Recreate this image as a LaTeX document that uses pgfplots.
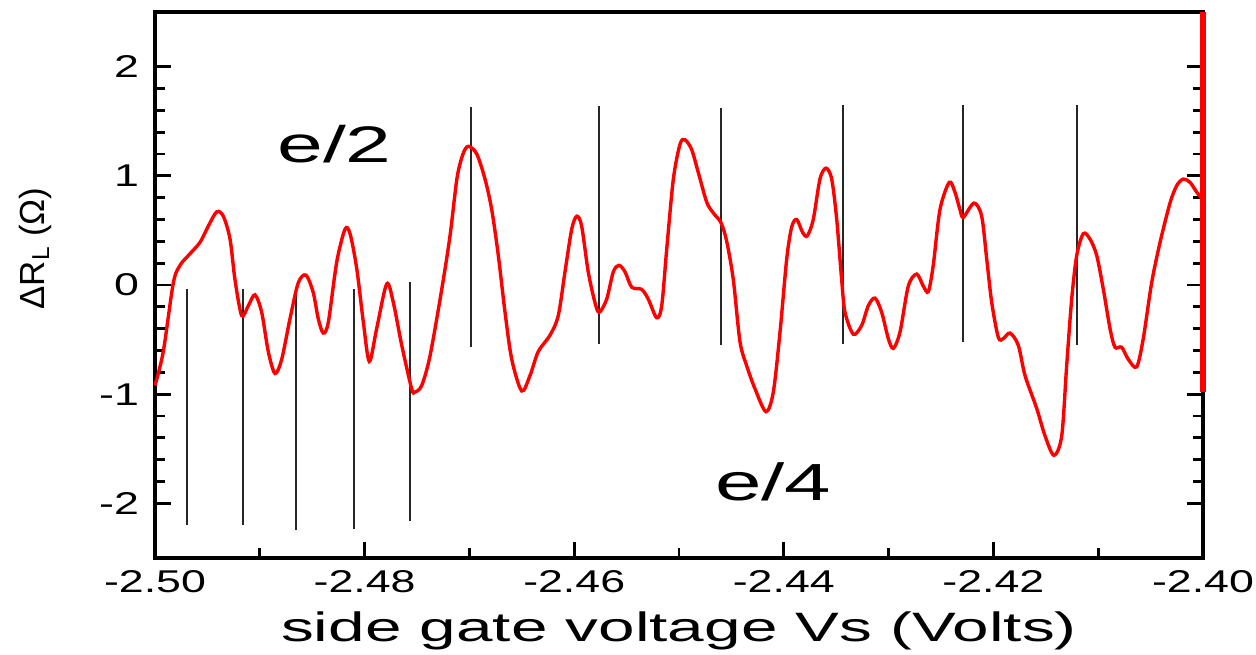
\documentclass[border=0pt]{standalone}
\usepackage{pgfplots}
\pgfplotsset{compat=1.18}
\usepackage{fontspec}
\setmainfont{Liberation Sans}[FakeStretch=1.6]
\newfontfamily\tickfont{Liberation Sans}[FakeStretch=1.42]
\newfontfamily\ylabfont{Liberation Sans}

\begin{document}
\begin{tikzpicture}
\begin{axis}[
  name=ax, at={(0,0)}, anchor=south west, scale only axis,
  width=524bp, height=273bp,
  xmin=-2.50, xmax=-2.40, ymin=-2.5, ymax=2.5,
  xtick={-2.50,-2.48,-2.46,-2.44,-2.42,-2.40},
  ytick={-2,-1,0,1,2},
  minor x tick num=1, minor y tick num=4,
  tick align=inside, xtick pos=lower, ytick pos=both, yticklabel pos=lower,
  major tick length=8bp, minor tick length=5bp,
  every tick/.style={black, line width=1.4bp},
  axis line style={line width=2.4bp},
  /pgf/number format/assume math mode=true,
  ticklabel style={font=\tickfont\fontsize{15.8}{18}\selectfont},
  xticklabel style={/pgf/number format/fixed, /pgf/number format/fixed zerofill, /pgf/number format/precision=2, yshift=-2.5bp},
  yticklabel style={xshift=-4.5bp},
  xlabel={side gate voltage Vs (Volts)},
  xlabel style={font=\fontsize{20.6}{24}\selectfont, at={(axis description cs:0.5,0)}, anchor=base, yshift=-41.5bp},
  ylabel={ΔR\textsubscript{L} (Ω)},
  ylabel style={font=\ylabfont\fontsize{17.5}{20}\selectfont, at={(axis description cs:-0.1145,0.567)}, anchor=center},
  clip=false,
]
% vertical marker lines (lower group)
\addplot[black!85, line width=1.1bp] coordinates {(-2.49695,-0.04) (-2.49695,-2.20)};
\addplot[black!85, line width=1.1bp] coordinates {(-2.49157,-0.04) (-2.49157,-2.20)};
\addplot[black!85, line width=1.1bp] coordinates {(-2.48655,-0.05) (-2.48655,-2.24)};
\addplot[black!85, line width=1.1bp] coordinates {(-2.48098,-0.04) (-2.48098,-2.23)};
\addplot[black!85, line width=1.1bp] coordinates {(-2.47567,0.03) (-2.47567,-2.16)};
% vertical marker lines (upper group)
\addplot[black!85, line width=1.1bp] coordinates {(-2.46985,1.63) (-2.46985,-0.57)};
\addplot[black!85, line width=1.1bp] coordinates {(-2.45760,1.64) (-2.45760,-0.54)};
\addplot[black!85, line width=1.1bp] coordinates {(-2.44602,1.62) (-2.44602,-0.55)};
\addplot[black!85, line width=1.1bp] coordinates {(-2.43438,1.65) (-2.43438,-0.54)};
\addplot[black!85, line width=1.1bp] coordinates {(-2.42287,1.65) (-2.42287,-0.52)};
\addplot[black!85, line width=1.1bp] coordinates {(-2.41199,1.65) (-2.41199,-0.55)};
% data curve
\addplot[red, line width=1.7bp, smooth, tension=0.5] coordinates {
(-2.50000,-0.92) (-2.49921,-0.61) (-2.49825,0.02) (-2.49761,0.18) (-2.49682,0.27)
(-2.49571,0.39) (-2.49491,0.54) (-2.49411,0.67) (-2.49348,0.63) (-2.49284,0.42)
(-2.49237,0.05) (-2.49173,-0.28) (-2.49110,-0.19) (-2.49046,-0.09) (-2.48982,-0.25)
(-2.48919,-0.61) (-2.48855,-0.81) (-2.48791,-0.68) (-2.48712,-0.31) (-2.48633,0.02)
(-2.48559,0.09) (-2.48490,-0.07) (-2.48442,-0.31) (-2.48394,-0.44) (-2.48346,-0.34)
(-2.48266,0.21) (-2.48187,0.51) (-2.48139,0.47) (-2.48075,0.15) (-2.48012,-0.34)
(-2.47955,-0.70) (-2.47885,-0.40) (-2.47789,0.01) (-2.47726,-0.16) (-2.47646,-0.55)
(-2.47551,-0.95) (-2.47519,-0.98) (-2.47455,-0.92) (-2.47376,-0.65) (-2.47264,-0.04)
(-2.47185,0.45) (-2.47118,0.98) (-2.47061,1.20) (-2.47010,1.27) (-2.46930,1.20)
(-2.46851,0.97) (-2.46787,0.69) (-2.46724,0.27) (-2.46660,-0.25) (-2.46596,-0.68)
(-2.46501,-0.97) (-2.46422,-0.83) (-2.46343,-0.61) (-2.46231,-0.46) (-2.46152,-0.28)
(-2.46088,0.12) (-2.46024,0.51) (-2.45976,0.63) (-2.45929,0.54) (-2.45866,0.12)
(-2.45802,-0.16) (-2.45761,-0.25) (-2.45690,-0.13) (-2.45627,0.12) (-2.45573,0.18)
(-2.45515,0.12) (-2.45451,-0.02) (-2.45356,-0.04) (-2.45293,-0.13) (-2.45213,-0.30)
(-2.45165,-0.19) (-2.45117,0.33) (-2.45054,0.97) (-2.44990,1.29) (-2.44943,1.33)
(-2.44879,1.24) (-2.44816,1.03) (-2.44736,0.76) (-2.44673,0.66) (-2.44599,0.57)
(-2.44545,0.40) (-2.44482,0.05) (-2.44418,-0.52) (-2.44354,-0.74) (-2.44275,-0.95)
(-2.44170,-1.16) (-2.44100,-0.98) (-2.44036,-0.43) (-2.43972,0.24) (-2.43925,0.53)
(-2.43877,0.60) (-2.43820,0.48) (-2.43776,0.45) (-2.43719,0.60) (-2.43655,0.97)
(-2.43597,1.07) (-2.43543,0.97) (-2.43495,0.60) (-2.43448,0.05) (-2.43416,-0.25)
(-2.43337,-0.45) (-2.43257,-0.37) (-2.43194,-0.19) (-2.43130,-0.12) (-2.43066,-0.25)
(-2.43003,-0.49) (-2.42955,-0.58) (-2.42891,-0.43) (-2.42812,-0.01) (-2.42732,0.10)
(-2.42669,-0.01) (-2.42621,-0.06) (-2.42574,0.18) (-2.42510,0.69) (-2.42421,0.94)
(-2.42367,0.85) (-2.42319,0.69) (-2.42287,0.62) (-2.42185,0.75) (-2.42112,0.63)
(-2.42064,0.24) (-2.42016,-0.16) (-2.41953,-0.48) (-2.41905,-0.49) (-2.41842,-0.44)
(-2.41763,-0.55) (-2.41698,-0.83) (-2.41587,-1.13) (-2.41508,-1.38) (-2.41422,-1.56)
(-2.41348,-1.38) (-2.41301,-0.74) (-2.41253,-0.13) (-2.41205,0.27) (-2.41142,0.47)
(-2.41078,0.42) (-2.41014,0.27) (-2.40951,-0.04) (-2.40887,-0.40) (-2.40840,-0.57)
(-2.40776,-0.57) (-2.40713,-0.68) (-2.40633,-0.75) (-2.40570,-0.49) (-2.40490,0.02)
(-2.40410,0.39) (-2.40315,0.75) (-2.40251,0.91) (-2.40188,0.97) (-2.40124,0.94)
(-2.40060,0.85) (-2.40019,0.80)
};
% red right border segment
\addplot[red, line width=2.6bp] coordinates {(-2.40,-0.98) (-2.40,2.5)};
\node[font=\fontsize{25.8}{30}\selectfont, anchor=base] at (axis cs:-2.48287,1.123) {e/2};
\node[font=\fontsize{26.2}{30}\selectfont, anchor=base] at (axis cs:-2.44100,-1.970) {e/4};
\end{axis}
\pgfresetboundingbox
\path[use as bounding box] (-77.5bp,-48.5bp) rectangle (550.5bp,279bp);
\end{tikzpicture}
\end{document}
